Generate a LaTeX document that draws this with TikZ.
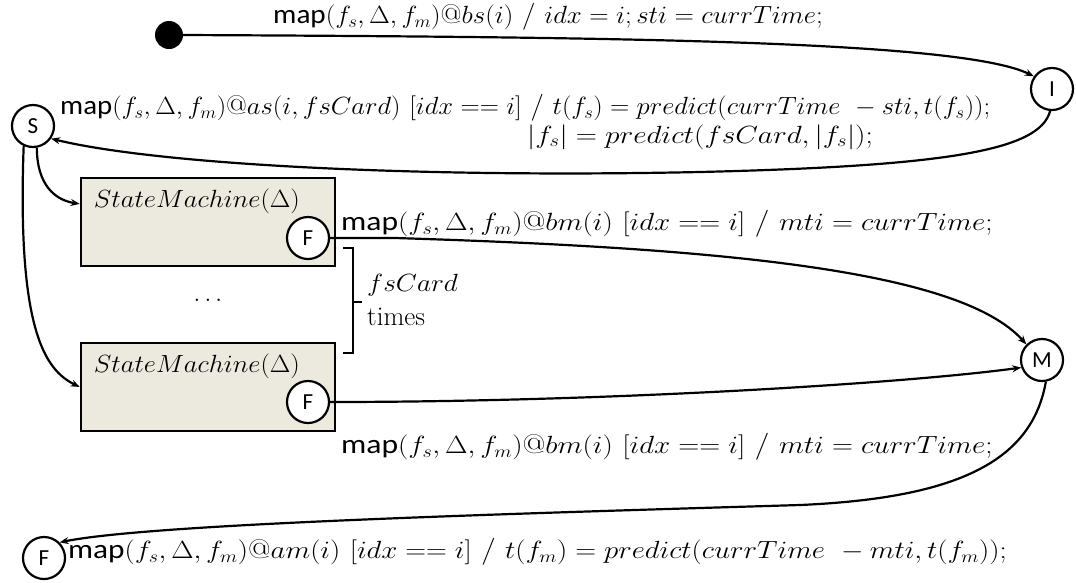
\documentclass[tikz,border=0pt]{standalone}
\usepackage{fontspec}
\usepackage{amsmath}
\usepackage{graphicx}
\newfontfamily\carl{Carlito}
\usetikzlibrary{arrows.meta,calc}
\definecolor{smfill}{RGB}{236,233,222}
\newcommand{\mapword}{{\carl map}}
% labels are set a little wider than the default math italic
\newcommand{\wide}[2][1.14]{\scalebox{#1}[1]{#2}}

\begin{document}
\begin{tikzpicture}[x=1pt,y=-1pt,
  state/.style={circle,draw,line width=2.2pt,fill=white,minimum size=42pt,inner sep=0pt,
    font=\fontsize{23}{27}\selectfont\carl},
  initstate/.style={circle,fill=black,minimum size=28pt,inner sep=0pt},
  smbox/.style={draw,line width=2.6pt,fill=smfill,minimum width=254pt,minimum height=88pt,inner sep=0pt},
  trans/.style={line width=2.2pt,-{Stealth[length=9pt,width=7pt]}},
  lbl/.style={font=\fontsize{27}{32}\selectfont,inner sep=0pt,anchor=west},
]
\useasboundingbox (0,0) rectangle (1076,582);

% states
\node[initstate] (init) at (169,35) {};
\node[state] (I) at (1052,89) {I};
\node[state] (S) at (33,126) {S};
\node[state] (M) at (1042,360) {M};
\node[state] (Fend) at (44,558) {F};

% nested state machines
\node[smbox] (box1) at (208,222) {};
\node[lbl,anchor=north west] (sm1) at ($(box1.north west)+(14,12)$) {\wide[1.07]{$StateMachine(\Delta)$}};
\node[state] (F1) at (308,238) {F};
\node[smbox] (box2) at (208,387) {};
\node[lbl,anchor=north west] (sm2) at ($(box2.north west)+(14,12)$) {\wide[1.07]{$StateMachine(\Delta)$}};
\node[state] (F2) at (308,402) {F};
\node[lbl,anchor=center] (dots) at (208,300) {$\ldots$};

% multiplicity bracket
\draw[line width=1.6pt] (343,248) -- (353,248) -- (353,353) -- (343,353);
\draw[line width=1.6pt] (353,302) -- (362,302);
\node[lbl] (card) at (367,285) {\wide[1.1]{$fsCard$}};
\node[lbl] (times) at (367,317) {times};

% transitions
\draw[trans] (init.east) .. controls (600,37) and (960,40) .. (I.145);
\draw[trans] (I.-95) .. controls (1040,150) and (950,166) .. (700,172)
  .. controls (420,178) and (160,165) .. (S.-35);
\draw[trans] (S.-80) .. controls (37,185) and (55,200) .. ($(box1.north west)!0.3!(box1.south west)$);
\draw[trans] (S.-115) .. controls (17,330) and (45,370) .. (box2.west);
\draw[trans] (F1.east) -- (395,238) .. controls (720,248) and (960,270) .. (M.135);
\draw[trans] (F2.east) .. controls (600,402) and (900,384) .. (M.200);
\draw[trans] (M.-80) .. controls (1032,460) and (960,498) .. (800,505)
  .. controls (500,514) and (150,524) .. (Fend.45);

% transition labels
\node[lbl] (lbs) at (273,17) {\wide[1.08]{\mapword$(f_s,\Delta,f_m)@bs(i)$ / $idx=i; sti=currTime;$}};
\node[lbl] (las1) at (60,108) {\wide[1.07]{\mapword$(f_s,\Delta,f_m)@as(i,fsCard)$ $[idx==i]$ / $t(f_s)=predict(currTime\ -sti,t(f_s));$}};
\node[lbl] (las2) at (527,137) {\wide[1.18]{$|f_s|=predict(fsCard,|f_s|);$}};
\node[lbl] (lbm1) at (341,224) {\wide[1.17]{\mapword$(f_s,\Delta,f_m)@bm(i)$ $[idx==i]$ / $mti=currTime;$}};
\node[lbl] (lbm2) at (341,447) {\wide[1.17]{\mapword$(f_s,\Delta,f_m)@bm(i)$ $[idx==i]$ / $mti=currTime;$}};
\node[lbl] (lam) at (68,552) {\wide[1.16]{\mapword$(f_s,\Delta,f_m)@am(i)$ $[idx==i]$ / $t(f_m)=predict(currTime\ -mti,t(f_m));$}};
\end{tikzpicture}
\end{document}
